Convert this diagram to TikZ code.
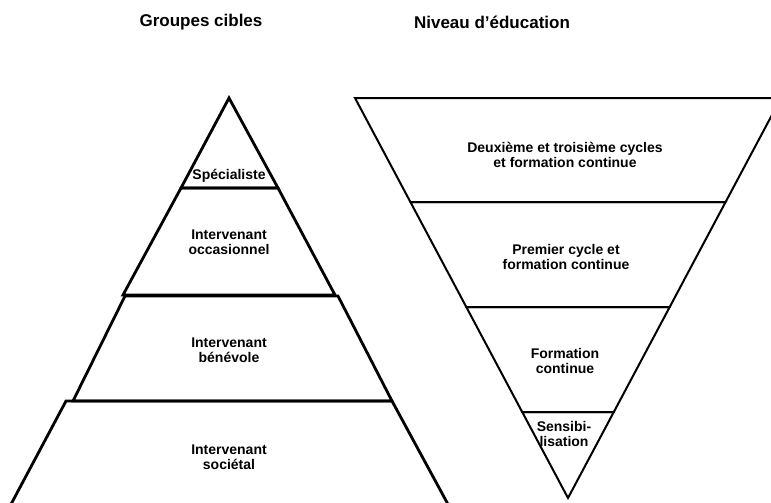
\documentclass[tikz,border=0pt]{standalone}
\usepackage{fontspec}
\setmainfont{Liberation Sans}
\begin{document}
\begin{tikzpicture}[x=1pt,y=-1pt,
  tier/.style={draw=black,line width=2.8pt,line join=miter},
  band/.style={draw=black,line width=2pt,line join=miter},
  label/.style={align=center,font=\bfseries\fontsize{14}{15}\selectfont,inner sep=0pt},
  heading/.style={font=\bfseries\fontsize{17}{20}\selectfont,inner sep=0pt}]
\useasboundingbox (0,0) rectangle (771,503);
\clip (0,0) rectangle (771,503);

% Target groups: stacked pyramid
\draw[tier] (229,98) -- (278,188) -- (181,188) -- cycle;
\draw[tier] (181,188) -- (278,188) -- (335,295) -- (123,295) -- cycle;
\draw[tier] (125,296) -- (338,296) -- (392,401) -- (73,401) -- cycle;
\draw[tier] (66,401) -- (392,401) -- (450,508) -- (9,508) -- cycle;

% Education level: inverted pyramid
\draw[band] (355,98) -- (781,98) -- (725.6,202) -- (410.4,202) -- cycle;
\draw[band] (410.4,202) -- (725.6,202) -- (669.7,307) -- (466.3,307) -- cycle;
\draw[band] (466.3,307) -- (669.7,307) -- (613.8,412) -- (522.2,412) -- cycle;
\draw[band] (522.2,412) -- (613.8,412) -- (568,498) -- cycle;

% Headings
\node[heading] (hgroupes) at (201,22.5) {Groupes cibles};
\node[heading] (hniveau) at (492,22.5) {Niveau d’éducation};

% Pyramid labels
\node[label] (spec) at (229,175.5) {Spécialiste};
\node[label] (occ) at (229,242.5) {Intervenant\\occasionnel};
\node[label] (ben) at (229,350.5) {Intervenant\\bénévole};
\node[label] (soc) at (229,457.5) {Intervenant\\sociétal};

% Education labels
\node[label] (deux) at (565,155) {Deuxième et troisième cycles\\et formation continue};
\node[label] (prem) at (566,257) {Premier cycle et\\formation continue};
\node[label] (form) at (565,360.5) {Formation\\continue};
\node[label] (sens) at (564,434) {Sensibi-\\lisation};
\end{tikzpicture}
\end{document}
